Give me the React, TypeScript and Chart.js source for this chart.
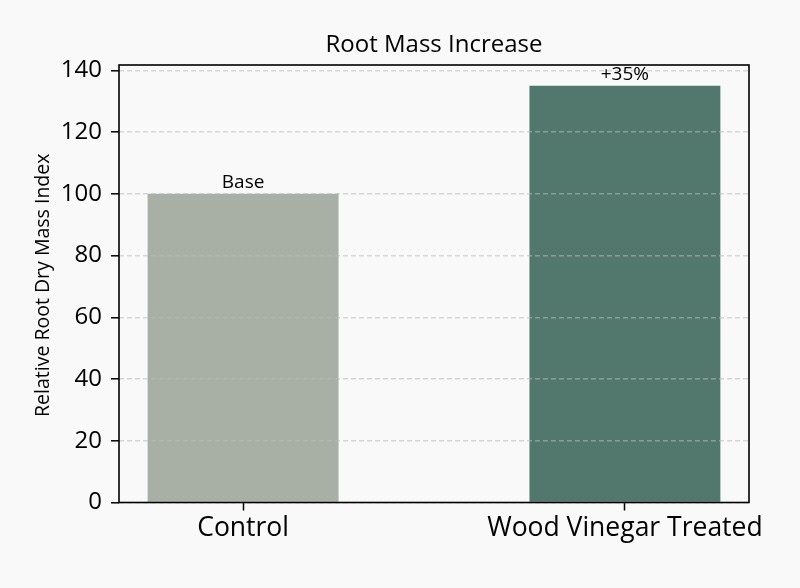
import { useEffect, useRef } from 'react';
import { Chart, registerables } from 'chart.js';

Chart.register(...registerables);

// ---- data ----
const categories = ['Control', 'Wood Vinegar Treated'];
const xPositions = [0, 1];
const rootMassIndex = [100, 135];
const barColors = ['#a8afa4', '#52786e'];
const yTickValues = [0, 20, 40, 60, 80, 100, 120, 140];
const chartTitle = 'Root Mass Increase';
const yAxisTitle = 'Relative Root Dry Mass Index';
const baseLabel = 'Base';

const FONT = "'Open Sans', 'DejaVu Sans', sans-serif";
const BG = '#f9f9f9';
const INK = '#000';
const BAR_WIDTH = 0.5;

function barLabel(i: number): string {
  if (i === 0) return baseLabel;
  const pct = Math.round(((rootMassIndex[i] - rootMassIndex[0]) / rootMassIndex[0]) * 100);
  return `${pct >= 0 ? '+' : ''}${pct}%`;
}

export default function App() {
  const canvasRef = useRef<HTMLCanvasElement>(null);

  useEffect(() => {
    const canvas = canvasRef.current;
    if (!canvas) return;

    const lo = Math.min(...xPositions) - BAR_WIDTH / 2;
    const hi = Math.max(...xPositions) + BAR_WIDTH / 2;
    const xMargin = (hi - lo) * 0.05;
    const yMax = Math.max(...rootMassIndex) * 1.05;

    const background = {
      id: 'background',
      beforeDraw(chart: any) {
        const { ctx, width, height } = chart;
        ctx.save();
        ctx.fillStyle = BG;
        ctx.fillRect(0, 0, width, height);
        ctx.restore();
      },
    };

    const decorations = {
      id: 'decorations',
      afterDraw(chart: any) {
        const { ctx, chartArea } = chart;
        const { left, right, top, bottom } = chartArea;
        ctx.save();

        // axes frame
        ctx.strokeStyle = INK;
        ctx.lineWidth = 1.6;
        ctx.setLineDash([]);
        ctx.strokeRect(left, top, right - left, bottom - top);

        // title
        ctx.fillStyle = INK;
        ctx.font = `24px ${FONT}`;
        ctx.textAlign = 'center';
        ctx.textBaseline = 'alphabetic';
        ctx.fillText(chartTitle, (left + right) / 2, 52);

        // y axis title
        ctx.save();
        ctx.translate(48.5, (top + bottom) / 2 + 1.5);
        ctx.rotate(-Math.PI / 2);
        ctx.font = `19.5px ${FONT}`;
        ctx.textAlign = 'center';
        ctx.textBaseline = 'alphabetic';
        ctx.fillText(yAxisTitle, 0, 0);
        ctx.restore();

        // value labels above bars
        const meta = chart.getDatasetMeta(0);
        ctx.font = `19px ${FONT}`;
        ctx.textAlign = 'center';
        ctx.textBaseline = 'alphabetic';
        meta.data.forEach((bar: any, i: number) => {
          ctx.fillText(barLabel(i), bar.x, bar.y - 6);
        });

        ctx.restore();
      },
    };

    const chart = new Chart(canvas, {
      type: 'bar',
      data: {
        datasets: [
          {
            data: xPositions.map((x, i) => ({ x, y: rootMassIndex[i] })),
            backgroundColor: barColors,
            borderWidth: 0,
            categoryPercentage: 1,
            barPercentage: BAR_WIDTH,
          },
        ],
      },
      options: {
        responsive: false,
        animation: false,
        events: [],
        layout: { padding: { top: 65, right: 51, left: 0, bottom: 0 } },
        plugins: {
          legend: { display: false },
          tooltip: { enabled: false },
          title: { display: false },
        },
        scales: {
          x: {
            type: 'linear',
            min: lo - xMargin,
            max: hi + xMargin,
            offset: false,
            afterFit(scale: any) {
              scale.height = 85.5;
            },
            afterBuildTicks(scale: any) {
              scale.ticks = xPositions.map((v) => ({ value: v }));
            },
            grid: {
              offset: false,
              drawOnChartArea: false,
              drawTicks: true,
              tickLength: 8,
              tickWidth: 1.5,
              tickColor: INK,
              z: 1,
            },
            border: { display: false },
            ticks: {
              autoSkip: false,
              maxRotation: 0,
              padding: 2,
              color: INK,
              font: { family: FONT, size: 26.5 },
              callback: (_v: any, i: number) => categories[i],
            },
          },
          y: {
            type: 'linear',
            min: 0,
            max: yMax,
            afterFit(scale: any) {
              scale.width = 119;
            },
            afterBuildTicks(scale: any) {
              scale.ticks = yTickValues.map((v) => ({ value: v }));
            },
            grid: {
              color: 'rgba(185,185,185,0.55)',
              lineWidth: 1.6,
              drawTicks: true,
              tickLength: 8,
              tickWidth: 1.5,
              tickColor: INK,
              tickBorderDash: [],
              z: 1,
            },
            border: { display: false, dash: [5, 3] },
            ticks: {
              padding: 9,
              color: INK,
              font: { family: FONT, size: 24 },
              callback: (v: any) => String(v),
            },
          },
        },
      } as any,
      plugins: [background, decorations],
    });

    return () => chart.destroy();
  }, []);

  return (
    <div style={{ position: 'fixed', left: 0, top: 0, width: 800, height: 588, background: BG }}>
      <canvas ref={canvasRef} width={800} height={588} style={{ display: 'block' }} />
    </div>
  );
}
